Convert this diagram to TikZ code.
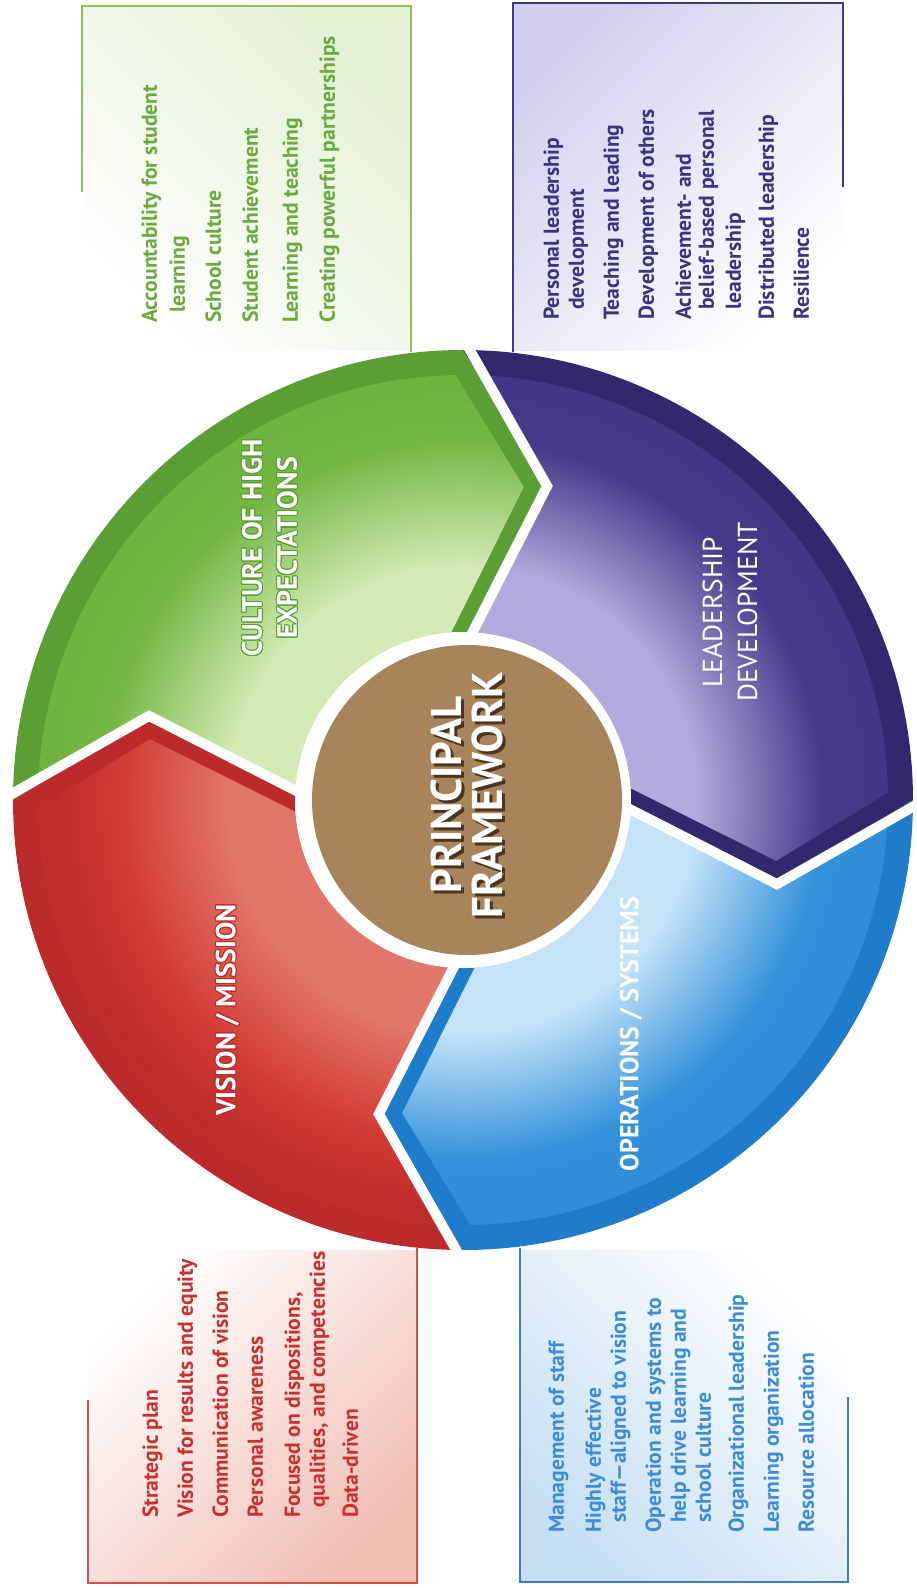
\documentclass[tikz,border=0pt]{standalone}
\usepackage{fontspec}
\setmainfont{PT Sans}
\usepackage[copies]{contour}
\usepackage{tikz}

\definecolor{vertfonce}{HTML}{5A9E34}
\definecolor{vert}{HTML}{74B744}
\definecolor{vertclair}{HTML}{D2EAB4}
\definecolor{vertpale}{HTML}{E4F1D4}
\definecolor{verttexte}{HTML}{6BAA3D}
\definecolor{vertcadre}{HTML}{8DC25B}
\definecolor{violetfonce}{HTML}{33286E}
\definecolor{violetmoyen}{HTML}{463A8A}
\definecolor{violetclair}{HTML}{B3A9DC}
\definecolor{violetpale}{HTML}{D3D0EE}
\definecolor{violettexte}{HTML}{3B3481}
\definecolor{violetcadre}{HTML}{3F3B7F}
\definecolor{rougefonce}{HTML}{BC2B2B}
\definecolor{rougemoyen}{HTML}{D13C35}
\definecolor{rougeclair}{HTML}{E3766A}
\definecolor{rosepale}{HTML}{F1BFB4}
\definecolor{rougetexte}{HTML}{C8312D}
\definecolor{rougecadre}{HTML}{D5504A}
\definecolor{bleufonce}{HTML}{1F7CCB}
\definecolor{bleumoyen}{HTML}{3392DA}
\definecolor{bleuclair}{HTML}{C4E2F8}
\definecolor{bleupale}{HTML}{C6DFF4}
\definecolor{bleutexte}{HTML}{3C8DD4}
\definecolor{bleucadre}{HTML}{3D7DBE}
\definecolor{or}{HTML}{A8845A}
\definecolor{orfonce}{HTML}{4A3520}

% lueur radiale : 1bp = 12.7 unites pour un cercle de rayon 450
\pgfdeclareradialshading{lueurvert}{\pgfpoint{0bp}{0bp}}{color(0bp)=(vertclair); color(13bp)=(vertclair); color(20bp)=(vert); color(23bp)=(vert!80!vertfonce); color(26bp)=(vert); color(50bp)=(vert)}
\pgfdeclareradialshading{lueurviolet}{\pgfpoint{0bp}{0bp}}{color(0bp)=(violetclair); color(13bp)=(violetclair); color(20bp)=(violetmoyen); color(23bp)=(violetmoyen!80!violetfonce); color(26bp)=(violetmoyen); color(50bp)=(violetmoyen)}
\pgfdeclareradialshading{lueurrouge}{\pgfpoint{0bp}{0bp}}{color(0bp)=(rougeclair); color(13bp)=(rougeclair); color(19bp)=(rougemoyen); color(23bp)=(rougefonce); color(27bp)=(rougemoyen); color(50bp)=(rougemoyen)}
\pgfdeclareradialshading{lueurbleu}{\pgfpoint{0bp}{0bp}}{color(0bp)=(bleuclair); color(13bp)=(bleuclair); color(20bp)=(bleumoyen); color(23bp)=(bleumoyen!80!bleufonce); color(26bp)=(bleumoyen); color(50bp)=(bleumoyen)}

\tikzset{
  puce/.style={rotate=90, anchor=west, inner sep=0pt, text height=1.45ex, text depth=.35ex,
    font=\bfseries\fontsize{21.6}{21.6}\selectfont},
  titre/.style={rotate=90, text=white, align=center, inner sep=0pt},
  separation/.style={draw=white, line width=10, line join=miter},
}
\contourlength{1pt}

\begin{document}
\begin{tikzpicture}[x=1pt, y=-1pt]
  \useasboundingbox (0,0) rectangle (916,1588);

  % cadres
  \shade[bottom color=white, top color=vertpale, shading angle=-45] (82,6) rectangle (411,350);
  \shade[bottom color=white, top color=violetpale, shading angle=45] (513,3) rectangle (843,350);
  \shade[top color=white, bottom color=rosepale, shading angle=45] (88,1250) rectangle (417,1583);
  \shade[top color=white, bottom color=bleupale, shading angle=-45] (520,1250) rectangle (848,1582);

  \draw[draw=vertcadre, line width=2.5] (82,192) -- (82,6) -- (411,6) -- (411,352);
  \draw[draw=violetcadre, line width=2.5] (513,352) -- (513,3) -- (843,3) -- (843,187);
  \draw[draw=rougecadre, line width=2.5] (88,1400) -- (88,1583) -- (417,1583) -- (417,1248);
  \draw[draw=bleucadre, line width=2.5] (520,1248) -- (520,1582) -- (848,1582) -- (848,1397);

  \begin{scope}[shift={(463,800)}]
    % secteurs
    \fill[rougefonce] (90:450) arc[start angle=90, end angle=180, radius=450] -- (195:325) -- (182:168)
      arc[start angle=182, end angle=92, radius=168] -- (105:325) -- cycle;
    \begin{scope}
      \clip (93:425) arc[start angle=93, end angle=179, radius=425] -- (191:319) -- (176:168)
        arc[start angle=176, end angle=92, radius=168] -- (105:325) -- cycle;
      \shade[shading=lueurrouge] (0,0) circle[radius=450];
    \end{scope}

    \fill[vertfonce] (180:450) arc[start angle=180, end angle=270, radius=450] -- (285:325) -- (272:168)
      arc[start angle=272, end angle=182, radius=168] -- (195:325) -- cycle;
    \begin{scope}
      \clip (183:425) arc[start angle=183, end angle=269, radius=425] -- (281:319) -- (266:168)
        arc[start angle=266, end angle=182, radius=168] -- (195:325) -- cycle;
      \shade[shading=lueurvert] (0,0) circle[radius=450];
    \end{scope}

    \fill[violetfonce] (270:450) arc[start angle=270, end angle=360, radius=450] -- (375:325) -- (362:168)
      arc[start angle=362, end angle=272, radius=168] -- (285:325) -- cycle;
    \begin{scope}
      \clip (273:425) arc[start angle=273, end angle=359, radius=425] -- (371:319) -- (356:168)
        arc[start angle=356, end angle=272, radius=168] -- (285:325) -- cycle;
      \shade[shading=lueurviolet] (0,0) circle[radius=450];
    \end{scope}

    \fill[bleufonce] (0:450) arc[start angle=0, end angle=90, radius=450] -- (105:325) -- (92:168)
      arc[start angle=92, end angle=2, radius=168] -- (15:325) -- cycle;
    \begin{scope}
      \clip (3:425) arc[start angle=3, end angle=89, radius=425] -- (101:319) -- (86:168)
        arc[start angle=86, end angle=2, radius=168] -- (15:325) -- cycle;
      \shade[shading=lueurbleu] (0,0) circle[radius=450];
    \end{scope}

    \draw[separation] (180:462) -- (195:325) -- (182:160);
    \draw[separation] (270:462) -- (285:325) -- (272:160);
    \draw[separation] (0:462) -- (15:325) -- (2:160);
    \draw[separation] (90:462) -- (105:325) -- (92:160);

    % centre
    \fill[white] (0,0) circle[radius=168];
    \fill[or] (4,0) circle[radius=155];
  \end{scope}

  % titres des secteurs
  \node[titre, font=\bfseries\fontsize{28}{35}\selectfont] (culture) at (270,548)
    {\contour{vertfonce}{CULTURE OF HIGH}\\\contour{vertfonce}{EXPECTATIONS}};
  \node[titre, font=\fontsize{27.5}{35}\selectfont] (leadership) at (730,612) {LEADERSHIP\\DEVELOPMENT};
  \node[titre, font=\bfseries\fontsize{27.5}{30}\selectfont] (vision) at (228,1010)
    {\contour{rougefonce}{VISION / MISSION}};
  \node[titre, font=\bfseries\fontsize{26}{30}\selectfont] (operations) at (631,1034) {OPERATIONS / SYSTEMS};
  \node[titre, text=orfonce, font=\bfseries\fontsize{43}{41}\selectfont] (ombre) at (470,798) {PRINCIPAL\\FRAMEWORK};
  \node[titre, font=\bfseries\fontsize{43}{41}\selectfont] (principal) at (467,795) {PRINCIPAL\\FRAMEWORK};

  % listes
  \node[puce, text=verttexte] (cult1) at (154,323) {Accountability for student};
  \node[puce, text=verttexte] (cult2) at (182,313) {learning};
  \node[puce, text=verttexte] (cult3) at (218,323) {School culture};
  \node[puce, text=verttexte] (cult4) at (255,323) {Student achievement};
  \node[puce, text=verttexte] (cult5) at (295,323) {Learning and teaching};
  \node[puce, text=verttexte] (cult6) at (332,323) {Creating powerful partnerships};

  \node[puce, text=violettexte] (lead1) at (556,320) {Personal leadership};
  \node[puce, text=violettexte] (lead2) at (581,310) {development};
  \node[puce, text=violettexte] (lead3) at (616,320) {Teaching and leading};
  \node[puce, text=violettexte] (lead4) at (651,320) {Development of others};
  \node[puce, text=violettexte] (lead5) at (688,320) {Achievement- and};
  \node[puce, text=violettexte] (lead6) at (711,310) {belief-based personal};
  \node[puce, text=violettexte] (lead7) at (738,310) {leadership};
  \node[puce, text=violettexte] (lead8) at (771,320) {Distributed leadership};
  \node[puce, text=violettexte] (lead9) at (806,320) {Resilience};

  \node[puce, text=rougetexte] (vis1) at (155,1518) {Strategic plan};
  \node[puce, text=rougetexte] (vis2) at (190,1518) {Vision for results and equity};
  \node[puce, text=rougetexte] (vis3) at (225,1518) {Communication of vision};
  \node[puce, text=rougetexte] (vis4) at (260,1518) {Personal awareness};
  \node[puce, text=rougetexte] (vis5) at (297,1518) {Focused on dispositions,};
  \node[puce, text=rougetexte] (vis6) at (322,1508) {qualities, and competencies};
  \node[puce, text=rougetexte] (vis7) at (355,1518) {Data-driven};

  \node[puce, text=bleutexte] (ops1) at (561,1533) {Management of staff};
  \node[puce, text=bleutexte] (ops2) at (598,1533) {Highly effective};
  \node[puce, text=bleutexte] (ops3) at (623,1523) {staff—aligned to vision};
  \node[puce, text=bleutexte] (ops4) at (658,1533) {Operation and systems to};
  \node[puce, text=bleutexte] (ops5) at (683,1523) {help drive learning and};
  \node[puce, text=bleutexte] (ops6) at (708,1523) {school culture};
  \node[puce, text=bleutexte] (ops7) at (741,1533) {Organizational leadership};
  \node[puce, text=bleutexte] (ops8) at (776,1533) {Learning organization};
  \node[puce, text=bleutexte] (ops9) at (811,1533) {Resource allocation};
\end{tikzpicture}
\end{document}
